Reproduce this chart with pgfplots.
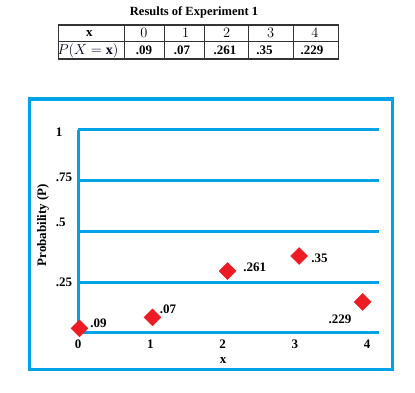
\documentclass[border=0pt]{standalone}
\usepackage{pgfplots}
\pgfplotsset{compat=1.18}
\usepackage{fontspec}
\setmainfont{Liberation Serif}
\definecolor{pblue}{HTML}{00A2E8}
\definecolor{pred}{HTML}{ED1C24}
\newcommand{\fs}{\fontsize{13}{15}\selectfont}
\begin{document}
\begin{tikzpicture}[x=1pt,y=1pt]
\path[use as bounding box] (0,0) rectangle (415,393);
% title
\node[font=\bfseries\fontsize{12.5}{15}\selectfont, inner sep=0] at (194,393-12.7) {Results of Experiment 1};
% table grid
\draw[line width=0.8pt, black!80] (58.3,393-41.7) -- (338.3,393-41.7);
\foreach \xx in {124,164,204,248.3,293.3}
  \draw[line width=0.8pt, black!80] (\xx,393-25) -- (\xx,393-59);
\draw[line width=1.4pt, black!80] (58.3,393-25) rectangle (338.3,393-59);
% table header
\node[font=\bfseries\fs, inner sep=0] at (89.3,393-33.3) {x};
\node[font=\fontsize{13.5}{15}\selectfont, inner sep=0] at (144,393-33.3) {$0$};
\node[font=\fontsize{13.5}{15}\selectfont, inner sep=0] at (185.7,393-33.3) {$1$};
\node[font=\fontsize{13.5}{15}\selectfont, inner sep=0] at (226.7,393-33.3) {$2$};
\node[font=\fontsize{13.5}{15}\selectfont, inner sep=0] at (270.7,393-33.3) {$3$};
\node[font=\fontsize{13.5}{15}\selectfont, inner sep=0] at (315,393-33.3) {$4$};
% table data row
\node[font=\fontsize{14}{16}\selectfont, inner sep=0, text=black!90!blue] at (88,393-50.5) {$P(X=\mathbf{x})$};
\node[font=\bfseries\fs, inner sep=0] at (144,393-50) {.09};
\node[font=\bfseries\fs, inner sep=0] at (182,393-50) {.07};
\node[font=\bfseries\fs, inner sep=0] at (225,393-50) {.261};
\node[font=\bfseries\fs, inner sep=0] at (264.5,393-50) {.35};
\node[font=\bfseries\fs, inner sep=0] at (312,393-50) {.229};
% blue frame
\draw[pblue, line width=3.3pt] (29.7,393-99) rectangle (392.3,393-369.7);
% y label
\node[font=\bfseries\fs, rotate=90, inner sep=0] at (43,393-225) {Probability (P)};
% x label
\node[font=\bfseries\fs, inner sep=0] at (223,393-360.7) {x};
\begin{axis}[
  at={(78pt,60pt)}, anchor=south west,
  scale only axis, width=301pt, height=203pt,
  xmin=0, xmax=4.166, ymin=0, ymax=1,
  clip=false,
  separate axis lines,
  axis x line*=bottom, axis y line*=left,
  x axis line style={draw=none},
  y axis line style={pblue, line width=3pt, -},
  ymajorgrids, major grid style={pblue, line width=3pt},
  major tick length=0pt,
  xtick={0,1,2,3,4}, xticklabels={0,1,2,3,4},
  xticklabel style={font=\bfseries\fs, inner sep=0},
  xticklabel shift=7pt,
  ytick={0,0.25,0.5,0.75,1}, yticklabels={},
  extra y ticks={0.99,0.768,0.547,0.251},
  extra y tick labels={1,.75,.5,.25},
  yticklabel style={font=\bfseries\fs, inner sep=0, text width=22pt, align=left},
  extra y tick style={grid=none},
]
\addplot[only marks, mark=square*, mark size=6pt,
  mark options={rotate=45, fill=pred, draw=pred}]
  coordinates {(0.02,0.023) (1.03,0.077) (2.07,0.305) (3.06,0.379) (3.94,0.153)};
\end{axis}
% data labels
\node[font=\bfseries\fs, inner sep=0] at (98.5,393-323) {.09};
\node[font=\bfseries\fs, inner sep=0] at (168,393-309) {.07};
\node[font=\bfseries\fs, inner sep=0] at (254.7,393-267) {.261};
\node[font=\bfseries\fs, inner sep=0] at (319.5,393-258) {.35};
\node[font=\bfseries\fs, inner sep=0] at (340,393-319) {.229};
\end{tikzpicture}
\end{document}
